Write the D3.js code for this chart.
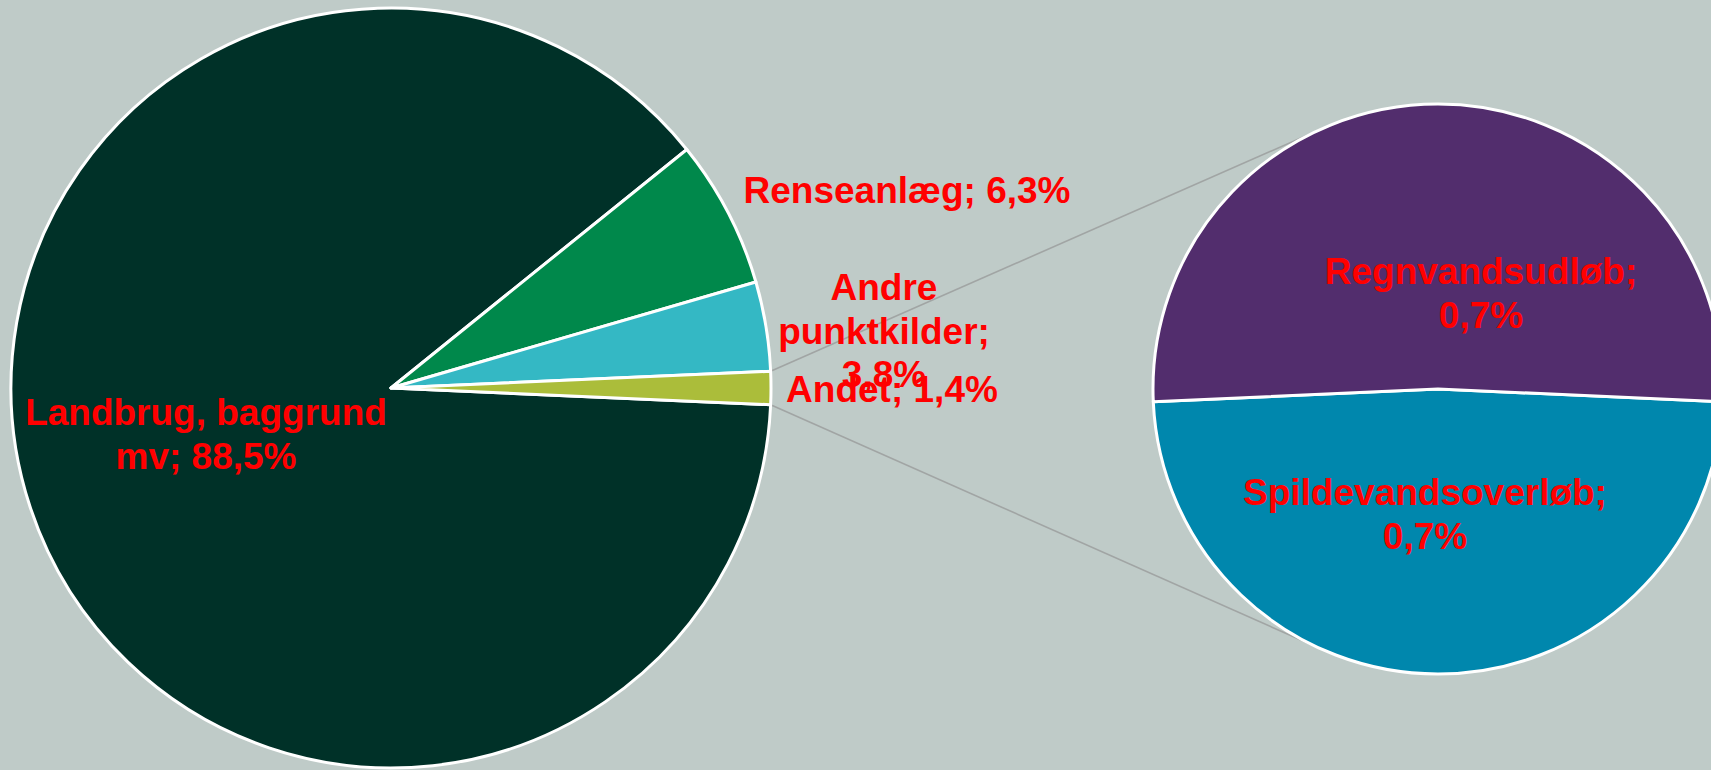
<!DOCTYPE html>
<html>
<head>
<meta charset="utf-8">
<script src="https://cdn.jsdelivr.net/npm/d3@7"></script>
<style>
  html, body { margin: 0; padding: 0; background: #bfcbc8; overflow: hidden; }
  svg { display: block; }
</style>
</head>
<body>
<div id="chart"></div>
<script>
// main pie
const mainLabels = ['Landbrug, baggrund mv', 'Renseanlæg', 'Andre punktkilder', 'Andet'];
const mainValues = [88.5, 6.3, 3.8, 1.4];
const mainColors = ['#003128', '#00884b', '#34b8c4', '#abbd3a'];

// secondary pie (split of "Andet")
const subLabels = ['Spildevandsoverløb', 'Regnvandsudløb'];
const subValues = [0.68, 0.72];
const subShown = ['0,7%', '0,7%'];
const subColors = ['#0087ad', '#522d6d'];

const mainShown = ['88,5%', '6,3%', '3,8%', '1,4%'];

function drawPieOfPie() {
  const width = 1711, height = 770;
  const main = { cx: 391, cy: 388, r: 380 };
  const sub = { cx: 1438, cy: 389, r: 285 };

  const svg = d3.select('#chart').append('svg')
    .attr('width', width)
    .attr('height', height);

  svg.append('rect')
    .attr('width', width)
    .attr('height', height)
    .attr('fill', '#bfcbc8');

  const mainTotal = d3.sum(mainValues);
  const andetAngle = mainValues[3] / mainTotal * 2 * Math.PI;

  // "Andet" slice sits centred on the right
  const mainPie = d3.pie().sort(null)
    .startAngle(Math.PI / 2 + andetAngle / 2)
    .endAngle(Math.PI / 2 + andetAngle / 2 + 2 * Math.PI);
  const mainArcs = mainPie(mainValues);

  const subTotal = d3.sum(subValues);
  const spildAngle = subValues[0] / subTotal * 2 * Math.PI;
  // Spildevand centred at the bottom
  const subPie = d3.pie().sort(null)
    .startAngle(Math.PI - spildAngle / 2)
    .endAngle(Math.PI - spildAngle / 2 + 2 * Math.PI);
  const subArcs = subPie(subValues);

  // connector lines: tangent from the edges of "Andet" to the secondary pie
  const andet = mainArcs[3];
  [andet.startAngle, andet.endAngle].forEach((a, i) => {
    const x0 = main.cx + main.r * Math.sin(a);
    const y0 = main.cy - main.r * Math.cos(a);
    const dx = sub.cx - x0, dy = sub.cy - y0;
    const d = Math.hypot(dx, dy);
    const base = Math.atan2(dy, dx);
    const off = Math.asin(sub.r / d) * (i === 0 ? -1 : 1);
    const len = Math.sqrt(d * d - sub.r * sub.r);
    svg.append('line')
      .attr('x1', x0).attr('y1', y0)
      .attr('x2', x0 + len * Math.cos(base + off))
      .attr('y2', y0 + len * Math.sin(base + off))
      .attr('stroke', '#a1a5a4')
      .attr('stroke-width', 1.6);
  });

  const mainArc = d3.arc().innerRadius(0).outerRadius(main.r);
  svg.append('g')
    .attr('transform', `translate(${main.cx}, ${main.cy})`)
    .selectAll('path')
    .data(mainArcs)
    .enter()
    .append('path')
    .attr('d', mainArc)
    .attr('fill', (d, i) => mainColors[i])
    .attr('stroke', '#fff')
    .attr('stroke-width', 3)
    .attr('stroke-linejoin', 'round');

  const subArc = d3.arc().innerRadius(0).outerRadius(sub.r);
  svg.append('g')
    .attr('transform', `translate(${sub.cx}, ${sub.cy})`)
    .selectAll('path')
    .data(subArcs)
    .enter()
    .append('path')
    .attr('d', subArc)
    .attr('fill', (d, i) => subColors[i])
    .attr('stroke', '#fff')
    .attr('stroke-width', 3)
    .attr('stroke-linejoin', 'round');

  // label placement (offset from pie centre, first baseline)
  const labels = [
    { lines: ['Landbrug, baggrund', 'mv; ' + mainShown[0]], x: main.cx - 185, y: main.cy + 37 },
    { lines: [mainLabels[1] + '; ' + mainShown[1]], x: main.cx + 516, y: main.cy - 185 },
    { lines: ['Andre', 'punktkilder;', mainShown[2]], x: main.cx + 493, y: main.cy - 88 },
    { lines: [mainLabels[3] + '; ' + mainShown[3]], x: main.cx + 501, y: main.cy + 14 },
    { lines: [subLabels[1] + ';', subShown[1]], x: sub.cx + 43, y: sub.cy - 105 },
    { lines: [subLabels[0] + ';', subShown[0]], x: sub.cx - 13, y: sub.cy + 116 }
  ];

  const lineH = 43.5;
  labels.forEach(l => {
    const t = svg.append('text')
      .attr('x', l.x)
      .attr('y', l.y)
      .attr('text-anchor', 'middle')
      .attr('fill', '#ff0000')
      .style('font-family', 'Arial, "Liberation Sans", sans-serif')
      .style('font-weight', 'bold')
      .style('font-size', '37px');
    l.lines.forEach((s, i) => {
      t.append('tspan')
        .attr('x', l.x)
        .attr('dy', i === 0 ? 0 : lineH)
        .text(s);
    });
  });
}

drawPieOfPie();
</script>
</body>
</html>
